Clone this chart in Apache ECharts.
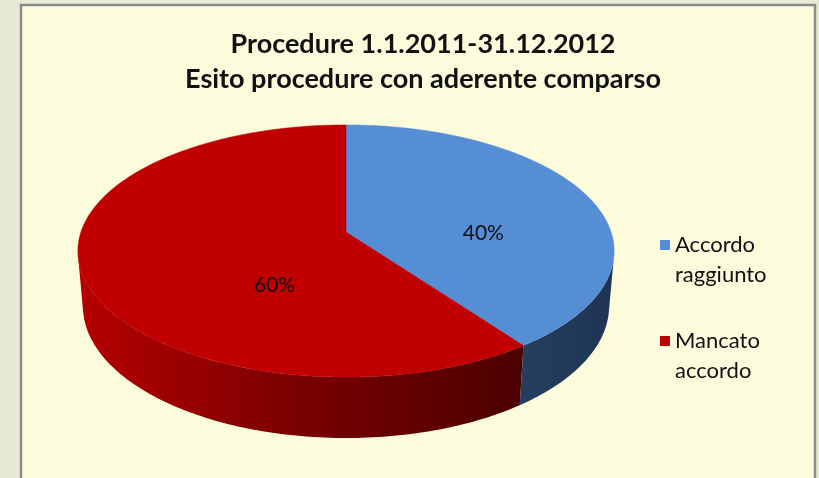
<!DOCTYPE html>
<html>
<head>
<meta charset="utf-8">
<script src="https://cdn.jsdelivr.net/npm/echarts@6/dist/echarts.min.js"></script>
<style>
  html, body { margin: 0; padding: 0; background: #e8e8d6; }
  #main { width: 819px; height: 478px; }
</style>
</head>
<body>
<div id="main"></div>
<script>
var categories = ['Accordo raggiunto', 'Mancato accordo'];
var values = [40, 60];
var topColors = ['#558ed5', '#c00000'];

// 3D view: perspective projection of a tilted disc
var CX = 346, CY = 232, F = 1557, L = 5.874, H = 0.237;
var PHI = 27.7 * Math.PI / 180, SN = Math.sin(PHI), CS = Math.cos(PHI);
var total = values.reduce(function (a, b) { return a + b; }, 0);
var visLimit = Math.acos(-1 / (L * CS)) * 180 / Math.PI;

function project(deg, r, z) {
    var a = deg * Math.PI / 180;
    var X = r * Math.sin(a), Y = -r * Math.cos(a);
    var depth = L - Y * CS - z * SN;
    return [CX + F * X / depth, CY + F * (Y * SN - z * CS) / depth];
}

function arc(a0, a1, z) {
    var pts = [];
    var n = Math.max(2, Math.ceil(Math.abs(a1 - a0)));
    for (var i = 0; i <= n; i++) {
        pts.push(project(a0 + (a1 - a0) * i / n, 1, z));
    }
    return pts;
}

// area and centroid of a polygon
function centroid(pts) {
    var A = 0, x = 0, y = 0;
    for (var i = 0; i < pts.length; i++) {
        var p = pts[i], q = pts[(i + 1) % pts.length];
        var c = p[0] * q[1] - q[0] * p[1];
        A += c; x += (p[0] + q[0]) * c; y += (p[1] + q[1]) * c;
    }
    A /= 2;
    return {a: Math.abs(A), x: x / (6 * A), y: y / (6 * A)};
}

var wallFills = [
    new echarts.graphic.LinearGradient(0, 0, 1, 0, [
        {offset: 0, color: '#253e60'}, {offset: 1, color: '#1f3452'}
    ]),
    new echarts.graphic.LinearGradient(80, 0, 530, 0, [
        {offset: 0, color: '#b50000'},
        {offset: 0.5, color: '#780000'},
        {offset: 1, color: '#4a0000'}
    ], true)
];

function makeRender(idx) {
    return function (params, api) {
        var before = 0;
        for (var i = 0; i < idx; i++) before += values[i];
        var v = api.value(0);
        var a0 = before / total * 360;
        var a1 = (before + v) / total * 360;
        var children = [];
        var parts = [];
        var w0 = Math.max(a0, visLimit), w1 = Math.min(a1, 360 - visLimit);
        if (w1 > w0) {
            var wall = arc(w0, w1, 0).concat(arc(w1, w0, -H));
            var wc = centroid(wall);
            wc.a *= 0.5;   // side counts less than the top for label placement
            parts.push(wc);
            children.push({
                type: 'polygon', z2: 1,
                shape: {points: wall},
                style: {fill: wallFills[idx], stroke: null}
            });
        }
        var face = [project(0, 0, 0)].concat(arc(a0, a1, 0));
        parts.push(centroid(face));
        children.push({
            type: 'polygon', z2: 10,
            shape: {points: face},
            style: {fill: topColors[idx], stroke: topColors[idx], lineWidth: 0.5}
        });
        var sa = 0, sx = 0, sy = 0;
        parts.forEach(function (p) { sa += p.a; sx += p.x * p.a; sy += p.y * p.a; });
        children.push({
            type: 'text', z2: 20,
            style: {
                text: Math.round(v / total * 100) + '%',
                x: sx / sa, y: sy / sa, align: 'center', verticalAlign: 'middle',
                font: '21px Lato', fill: '#111'
            }
        });
        return {type: 'group', children: children};
    };
}

var series = categories.map(function (name, i) {
    return {
        type: 'custom',
        name: name,
        coordinateSystem: 'none',
        itemStyle: {color: topColors[i]},
        renderItem: makeRender(i),
        data: [[values[i]]]
    };
});

var chart = echarts.init(document.getElementById('main'));
chart.setOption({
    backgroundColor: '#e8e8d6',
    animation: false,
    graphic: [{
        type: 'rect', z: -10, silent: true,
        shape: {x: 21, y: 5, width: 794, height: 490},
        style: {fill: '#fcfcdc', stroke: '#8a8a8a', lineWidth: 2.5}
    }],
    title: {
        text: 'Procedure 1.1.2011-31.12.2012\nEsito procedure con aderente comparso',
        left: 418, top: 22, textAlign: 'center',
        textStyle: {fontFamily: 'Lato', fontSize: 27, fontWeight: 'bold', lineHeight: 35, color: '#111'}
    },
    legend: {
        orient: 'vertical', left: 660, top: 200, padding: 0,
        icon: 'rect', itemWidth: 10, itemHeight: 10, itemGap: 6,
        data: categories,
        formatter: function (name) { return '\n' + name.replace(' ', '\n'); },
        textStyle: {fontFamily: 'Lato', fontSize: 22, lineHeight: 30, color: '#111'}
    },
    series: series
});
</script>
</body>
</html>
